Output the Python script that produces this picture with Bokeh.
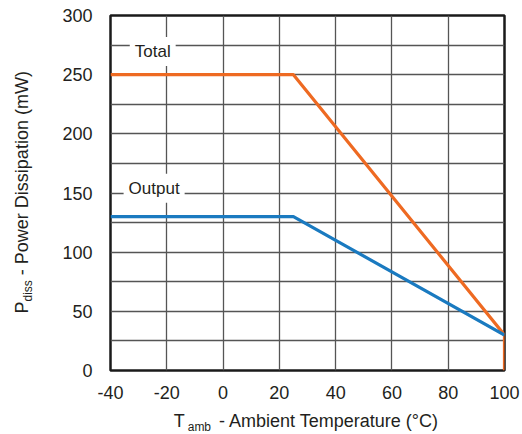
import numpy as np
from bokeh.plotting import figure
from bokeh.models import Range1d, FixedTicker, Label
from bokeh.layouts import row, column
from bokeh.core.properties import value
from bokeh.embed import file_html
from bokeh.resources import INLINE

# ---- data ----
total_x = [-40, 25, 100, 100]
total_y = [250, 250, 30, 0]
output_x = [-40, 25, 100]
output_y = [130, 130, 30]
x_ticks = [-40, -20, 0, 20, 40, 60, 80, 100]
x_tick_labels = ["-40", "-20", "0", "20", "40", "60", "80", "100"]
y_ticks = [0, 50, 100, 150, 200, 250, 300]
y_grid = [0, 25, 50, 75, 100, 125, 150, 175, 200, 225, 250, 275, 300]
x_title = ["T", "amb", " - Ambient Temperature (°C)"]
y_title = ["P", "diss", " - Power Dissipation (mW)"]

FONT = "Liberation Sans"
ORANGE = "#EE6A22"
BLUE = "#1A7AC0"
TXT = "#231F20"
MAIN_PX, SUB_PX = 18, 12

# Arial / Liberation Sans advance widths (per 1000 em)
W = {' ': 278, '-': 333, 'A': 667, 'm': 833, 'b': 556, 'i': 222, 'e': 556, 'n': 556,
     't': 278, 'T': 611, 'p': 556, 'r': 333, 'a': 556, 'u': 556, '(': 333, ')': 333,
     '°': 400, 'C': 722, 'P': 667, 'o': 556, 'w': 722, 'D': 722, 's': 500, 'W': 944,
     'd': 556}


def tw(s, px):
    return sum(W.get(c, 556) for c in s) * px / 1000.0


def piece_starts(pieces, start):
    sizes = [MAIN_PX, SUB_PX, MAIN_PX]
    pos, out = start, []
    for s, px in zip(pieces, sizes):
        lead = len(s) - len(s.lstrip())
        out.append(pos + tw(s[:lead], px))
        pos += tw(s, px)
    return out

TOTAL_W, TOTAL_H = 522, 434
LEFT_W = 40
MAIN_H = 408
BL, BR, BT, BB = 70, 18, 15, 38

# ---- main chart ----
p = figure(width=TOTAL_W - LEFT_W, height=MAIN_H, output_backend="svg", toolbar_location=None,
           x_range=Range1d(-40, 100), y_range=Range1d(0, 300),
           min_border_left=BL, min_border_right=BR, min_border_top=BT, min_border_bottom=BB)
p.background_fill_color = "white"
p.border_fill_color = "white"
p.outline_line_color = "#1a1a1a"
p.outline_line_width = 2.5

p.xaxis.ticker = FixedTicker(ticks=x_ticks)
p.xaxis.major_label_overrides = {t: l for t, l in zip(x_ticks, x_tick_labels)}
p.yaxis.ticker = FixedTicker(ticks=y_ticks)
p.xgrid.ticker = FixedTicker(ticks=x_ticks)
p.ygrid.ticker = FixedTicker(ticks=y_grid)
for g in (p.xgrid, p.ygrid):
    g.grid_line_color = "#555555"
    g.grid_line_width = 1.3
    g.grid_line_alpha = 1.0

for ax in (p.xaxis, p.yaxis):
    ax.axis_line_color = None
    ax.major_tick_line_color = None
    ax.minor_tick_line_color = None
    ax.major_tick_out = 0
    ax.major_tick_in = 0
    ax.minor_tick_out = 0
    ax.major_label_text_font = FONT
    ax.major_label_text_font_size = "18px"
    ax.major_label_text_color = TXT
p.xaxis.major_label_standoff = 15
p.yaxis.major_label_standoff = 18

p.line(total_x, total_y, line_color=ORANGE, line_width=3.2)
p.line(output_x, output_y, line_color=BLUE, line_width=3.2)

for txt, xx, yy in (("Total", -25, 269.5), ("Output", -24.5, 154)):
    p.add_layout(Label(x=xx, y=yy, text=txt, text_font=FONT, text_font_size="17px",
                       text_color=TXT, text_align="center", text_baseline="middle",
                       background_fill_color="white", padding=5))


def text_fig(w, h, xr, yr, bl=0, br=0):
    f = figure(width=w, height=h, output_backend="svg", toolbar_location=None,
               x_range=xr, y_range=yr,
               min_border=0, min_border_left=bl, min_border_right=br,
               min_border_top=0, min_border_bottom=0)
    f.axis.visible = False
    f.grid.visible = False
    f.title.visible = False
    f.outline_line_color = None
    f.background_fill_color = "white"
    f.border_fill_color = "white"
    return f

# ---- x axis title (below); its frame lines up with the chart frame ----
XH = TOTAL_H - MAIN_H
xf = text_fig(TOTAL_W - LEFT_W, XH, Range1d(-40, 100), Range1d(0, XH), BL, BR)
frame_w = TOTAL_W - LEFT_W - BL - BR
px_per = frame_w / 140.0
xw = tw(x_title[0], MAIN_PX) + tw(x_title[1], SUB_PX) + tw(x_title[2], MAIN_PX)
xs_px = piece_starts(x_title, frame_w / 2.0 - xw / 2.0)
xs_px = [xs_px[0] - 3, xs_px[1], xs_px[2] + 3]
yoffs = [12, 18, 12]
for s, x0, yo, px in zip(x_title, xs_px, yoffs, [MAIN_PX, SUB_PX, MAIN_PX]):
    xf.text(x=[-40 + x0 / px_per], y=[XH], y_offset=yo, text=[s.strip()], text_font=value(FONT),
            text_font_size=f"{px}px", text_color=TXT, text_align="left",
            text_baseline="alphabetic")

# ---- y axis title (left, rotated) ----
yf = text_fig(LEFT_W, TOTAL_H, Range1d(0, LEFT_W), Range1d(0, TOTAL_H))
ystarts = piece_starts(y_title, TOTAL_H - 313)
xb = [21.5, 27.5, 21.5]
for s, y0, x0, px in zip(y_title, ystarts, xb, [MAIN_PX, SUB_PX, MAIN_PX]):
    yf.text(x=[x0], y=[y0], text=[s.strip()], angle=np.pi / 2, text_font=value(FONT),
            text_font_size=f"{px}px", text_color=TXT, text_align="left",
            text_baseline="alphabetic")

layout = row(yf, column(p, xf, spacing=0), spacing=0)
open("out.html", "w").write(file_html(layout, INLINE))
